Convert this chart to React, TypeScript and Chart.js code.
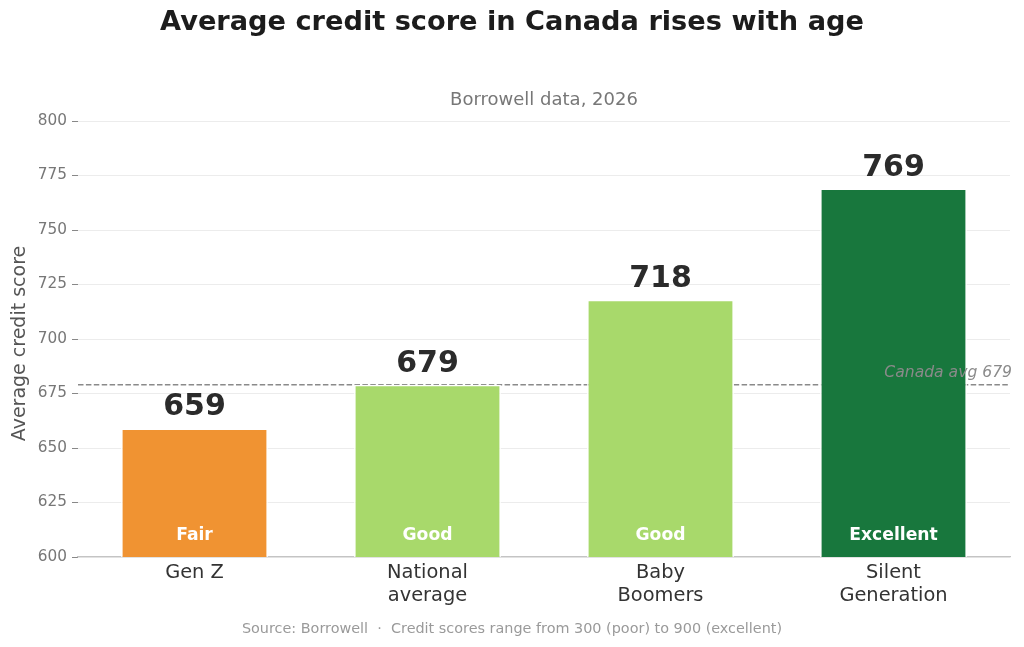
import React, { useEffect, useRef } from "react";
import { Chart, registerables } from "chart.js";

Chart.register(...registerables);

const categories: string[][] = [["Gen Z"], ["National", "average"], ["Baby", "Boomers"], ["Silent", "Generation"]];
const scores: number[] = [659, 679, 718, 769];
const ratings: string[] = ["Fair", "Good", "Good", "Excellent"];
const barColors: string[] = ["#F09332", "#A8D96B", "#A8D96B", "#18773D"];
const canadaAvg = 679;
const yMin = 600;
const yMax = 800;
const yStep = 25;

const TITLE = "Average credit score in Canada rises with age";
const SUBTITLE = "Borrowell data, 2026";
const Y_TITLE = "Average credit score";
const FOOTER = "Source: Borrowell  \u00b7  Credit scores range from 300 (poor) to 900 (excellent)";
const AVG_LABEL = `Canada avg ${canadaAvg}`;
const FONT = "'DejaVu Sans', 'Noto Sans', sans-serif";

const overlayPlugin = {
  id: "overlay",
  beforeDatasetsDraw(chart: any) {
    const { ctx, chartArea, scales } = chart;
    const y = scales.y.getPixelForValue(canadaAvg);
    ctx.save();
    ctx.strokeStyle = "#8a8a8a";
    ctx.lineWidth = 1.5;
    ctx.setLineDash([5.5, 2.4]);
    ctx.beginPath();
    ctx.moveTo(chartArea.left, y);
    ctx.lineTo(chartArea.right, y);
    ctx.stroke();
    ctx.restore();
  },
  afterDatasetsDraw(chart: any) {
    const { ctx, chartArea, scales } = chart;
    const meta = chart.getDatasetMeta(0);
    const base = scales.y.getPixelForValue(yMin);
    ctx.save();
    ctx.textAlign = "center";
    ctx.textBaseline = "alphabetic";
    meta.data.forEach((bar: any, i: number) => {
      ctx.fillStyle = "#2b2b2b";
      ctx.font = `bold 30px ${FONT}`;
      ctx.fillText(String(scores[i]), bar.x, bar.y - 13);
      ctx.fillStyle = "#ffffff";
      ctx.font = `bold 17.2px ${FONT}`;
      ctx.fillText(ratings[i], bar.x, base - 17);
    });
    // avg label
    const ay = scales.y.getPixelForValue(canadaAvg);
    ctx.textAlign = "right";
    ctx.fillStyle = "#8a8a8a";
    ctx.font = `italic 15.6px ${FONT}`;
    ctx.fillText(AVG_LABEL, chartArea.right + 2, ay - 8);
    // title
    ctx.textAlign = "center";
    ctx.fillStyle = "#1c1c1c";
    ctx.font = `bold 27.2px ${FONT}`;
    ctx.fillText(TITLE, chart.width / 2, 30);
    // subtitle
    ctx.fillStyle = "#777777";
    ctx.font = `18px ${FONT}`;
    ctx.fillText(SUBTITLE, (chartArea.left + chartArea.right) / 2, 105);
    // footer
    ctx.fillStyle = "#9a9a9a";
    ctx.font = `14.4px ${FONT}`;
    ctx.fillText(FOOTER, chart.width / 2, 633);
    // y-axis title
    ctx.save();
    ctx.translate(20, 343.5);
    ctx.rotate(-Math.PI / 2);
    ctx.textBaseline = "middle";
    ctx.fillStyle = "#555555";
    ctx.font = `19px ${FONT}`;
    ctx.fillText(Y_TITLE, 0, 0);
    ctx.restore();
    ctx.restore();
  },
};

export default function App() {
  const ref = useRef<HTMLCanvasElement>(null);
  useEffect(() => {
    document.body.style.margin = "0";
    const canvas = ref.current!;
    const chart = new Chart(canvas, {
      type: "bar",
      data: {
        labels: categories,
        datasets: [
          {
            data: scores,
            backgroundColor: barColors,
            borderColor: "#ffffff",
            borderWidth: 1.5,
            barPercentage: 0.63,
            categoryPercentage: 1,
          },
        ],
      },
      options: {
        responsive: false,
        animation: false,
        devicePixelRatio: 1,
        layout: { padding: { top: 121, right: 14, left: 0, bottom: 0 } },
        plugins: {
          legend: { display: false },
          tooltip: { enabled: false },
          title: { display: false },
        },
        scales: {
          x: {
            type: "category",
            offset: true,
            grid: { display: false, drawTicks: false },
            border: { display: true, color: "#c4c4c4", width: 1.3 },
            ticks: {
              color: "#333333",
              font: { family: FONT, size: 19.4, lineHeight: 1.2 },
              padding: 4,
              maxRotation: 0,
              autoSkip: false,
            },
            afterFit(scale: any) {
              scale.height = 90;
            },
          },
          y: {
            min: yMin,
            max: yMax,
            grid: {
              color: "#ececec",
              lineWidth: 1,
              tickColor: "#888888",
              tickLength: 6,
              tickWidth: 1,
            },
            border: { display: false },
            ticks: {
              stepSize: yStep,
              color: "#777777",
              font: { family: FONT, size: 15.3 },
              padding: 5,
            },
            title: { display: false },
            afterFit(scale: any) {
              scale.width = 78;
            },
          },
        },
      },
      plugins: [overlayPlugin],
    });
    return () => chart.destroy();
  }, []);
  return (
    <div style={{ width: 1024, height: 647, background: "#ffffff" }}>
      <canvas ref={ref} width={1024} height={647} style={{ display: "block", width: 1024, height: 647 }} />
    </div>
  );
}
